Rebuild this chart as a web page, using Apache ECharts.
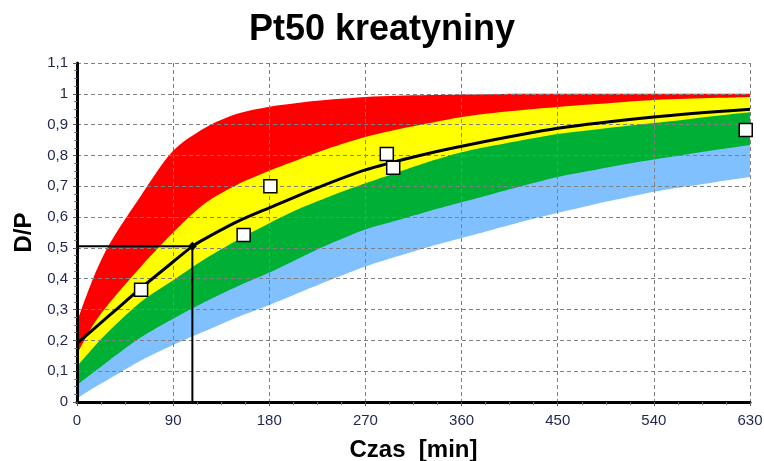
<!DOCTYPE html>
<html>
<head>
<meta charset="utf-8">
<script src="https://cdn.jsdelivr.net/npm/echarts@6/dist/echarts.min.js"></script>
<style>
  html, body { margin: 0; padding: 0; background: #fff; }
  #chart { width: 764px; height: 461px; }
</style>
</head>
<body>
<div id="chart"></div>
<script>
// czas [min] dla granic pasm
var times = [0, 15, 30, 60, 90, 120, 150, 180, 210, 240, 270, 300, 330, 360, 390, 420, 450, 480, 510, 540, 570, 600, 630];
// granice pasm D/P (od gory)
var redTop     = [0.26, 0.40, 0.51, 0.67, 0.815, 0.89, 0.935, 0.958, 0.972, 0.982, 0.99, 0.994, 0.996, 0.998, 0.999, 1.0, 1.0, 1.0, 1.0, 1.0, 1.0, 1.0, 1.0];
var yellowTop  = [0.155, 0.25, 0.32, 0.44, 0.55, 0.645, 0.705, 0.75, 0.79, 0.828, 0.86, 0.884, 0.905, 0.925, 0.938, 0.948, 0.957, 0.965, 0.973, 0.98, 0.984, 0.987, 0.99];
var greenTop   = [0.115, 0.175, 0.23, 0.325, 0.395, 0.465, 0.525, 0.58, 0.63, 0.672, 0.71, 0.745, 0.78, 0.81, 0.832, 0.852, 0.87, 0.882, 0.894, 0.905, 0.917, 0.929, 0.94];
var blueTop    = [0.055, 0.095, 0.135, 0.21, 0.27, 0.325, 0.375, 0.42, 0.47, 0.518, 0.56, 0.59, 0.62, 0.648, 0.676, 0.704, 0.73, 0.75, 0.77, 0.787, 0.803, 0.819, 0.834];
var blueBottom = [0.012, 0.045, 0.075, 0.135, 0.185, 0.23, 0.275, 0.315, 0.358, 0.40, 0.44, 0.473, 0.504, 0.532, 0.56, 0.588, 0.614, 0.638, 0.66, 0.682, 0.699, 0.715, 0.73];

// krzywa pacjenta
var curveTimes = [0, 15, 30, 45, 60, 90, 108, 120, 150, 180, 225, 270, 315, 360, 450, 540, 630];
var curveDP    = [0.19, 0.235, 0.28, 0.325, 0.37, 0.455, 0.505, 0.53, 0.585, 0.63, 0.695, 0.753, 0.795, 0.83, 0.888, 0.925, 0.95];

// pomiary
var sampleTimes = [60, 156, 181, 290, 296, 626];
var sampleDP    = [0.364, 0.542, 0.70, 0.805, 0.76, 0.883];

// Pt50
var pt50Time = 108;
var pt50DP = 0.505;

var xTicks = { min: 0, max: 630, interval: 90 };
var yTicks = { min: 0, max: 1.1, interval: 0.1 };

function zip(xs, ys) {
  return xs.map(function (x, i) { return [x, ys[i]]; });
}

function band(name, color, values) {
  return {
    name: name,
    type: 'line',
    data: zip(times, values),
    showSymbol: false,
    silent: true,
    smooth: 0.3,
    lineStyle: { width: 0 },
    areaStyle: { color: color, opacity: 1, origin: 'start' },
    z: 2
  };
}

var myChart = echarts.init(document.getElementById('chart'));

var option = {
  animation: false,
  title: {
    text: 'Pt50 kreatyniny',
    left: 'center',
    top: 7,
    textStyle: { fontFamily: 'Liberation Sans', fontSize: 36, fontWeight: 'bold', color: '#000' }
  },
  grid: { left: 77, right: 14, top: 63, bottom: 59, outerBoundsMode: 'none' },
  xAxis: {
    type: 'value',
    min: xTicks.min,
    max: xTicks.max,
    interval: xTicks.interval,
    z: 3,
    name: 'Czas  [min]',
    nameLocation: 'middle',
    nameGap: 36,
    nameTextStyle: { fontFamily: 'Liberation Sans', fontSize: 24, fontWeight: 'bold', color: '#000' },
    axisLine: { lineStyle: { color: '#000', width: 3 } },
    axisTick: { show: true, length: 4, lineStyle: { color: '#555' } },
    minorTick: { show: true, splitNumber: 4, length: 3, lineStyle: { color: '#777' } },
    axisLabel: { margin: 11, fontFamily: 'Liberation Sans', fontSize: 15, color: '#1e2550' },
    splitLine: { show: true, lineStyle: { color: '#808080', type: [4, 3], width: 1 } }
  },
  yAxis: {
    type: 'value',
    min: yTicks.min,
    max: yTicks.max,
    interval: yTicks.interval,
    z: 3,
    name: 'D/P',
    nameLocation: 'middle',
    nameGap: 40,
    nameTextStyle: { fontFamily: 'Liberation Sans', fontSize: 24, fontWeight: 'bold', color: '#000' },
    axisLine: { show: true, lineStyle: { color: '#000', width: 3 } },
    axisTick: { show: true, length: 4, lineStyle: { color: '#555' } },
    minorTick: { show: true, splitNumber: 4, length: 3, lineStyle: { color: '#777' } },
    axisLabel: {
      margin: 9,
      fontFamily: 'Liberation Sans',
      fontSize: 15,
      color: '#1e2550',
      formatter: function (v) {
        return String(Math.round(v * 10) / 10).replace('.', ',');
      }
    },
    splitLine: { show: true, lineStyle: { color: '#808080', type: [4, 3], width: 1 } }
  },
  series: [
    band('czerwony', '#ff0000', redTop),
    band('zolty', '#ffff00', yellowTop),
    band('zielony', '#00b034', greenTop),
    band('niebieski', '#80c0ff', blueTop),
    band('tlo', '#ffffff', blueBottom),
    {
      name: 'Pt50',
      type: 'line',
      data: [[0, pt50DP], [pt50Time, pt50DP], [pt50Time, 0]],
      showSymbol: false,
      silent: true,
      lineStyle: { color: '#000', width: 2 },
      z: 5
    },
    {
      name: 'krzywa',
      type: 'line',
      data: zip(curveTimes, curveDP),
      smooth: 0.3,
      showSymbol: false,
      silent: true,
      lineStyle: { color: '#000', width: 3 },
      z: 6
    },
    {
      name: 'punkt',
      type: 'scatter',
      data: [[pt50Time, pt50DP]],
      symbol: 'diamond',
      symbolSize: 9,
      itemStyle: { color: '#000', opacity: 1 },
      z: 7
    },
    {
      name: 'pomiary',
      type: 'scatter',
      data: zip(sampleTimes, sampleDP),
      symbol: 'rect',
      symbolSize: 13,
      itemStyle: { color: '#fff', borderColor: '#000', borderWidth: 1.5, opacity: 1 },
      z: 8
    }
  ]
};

myChart.setOption(option);
</script>
</body>
</html>
